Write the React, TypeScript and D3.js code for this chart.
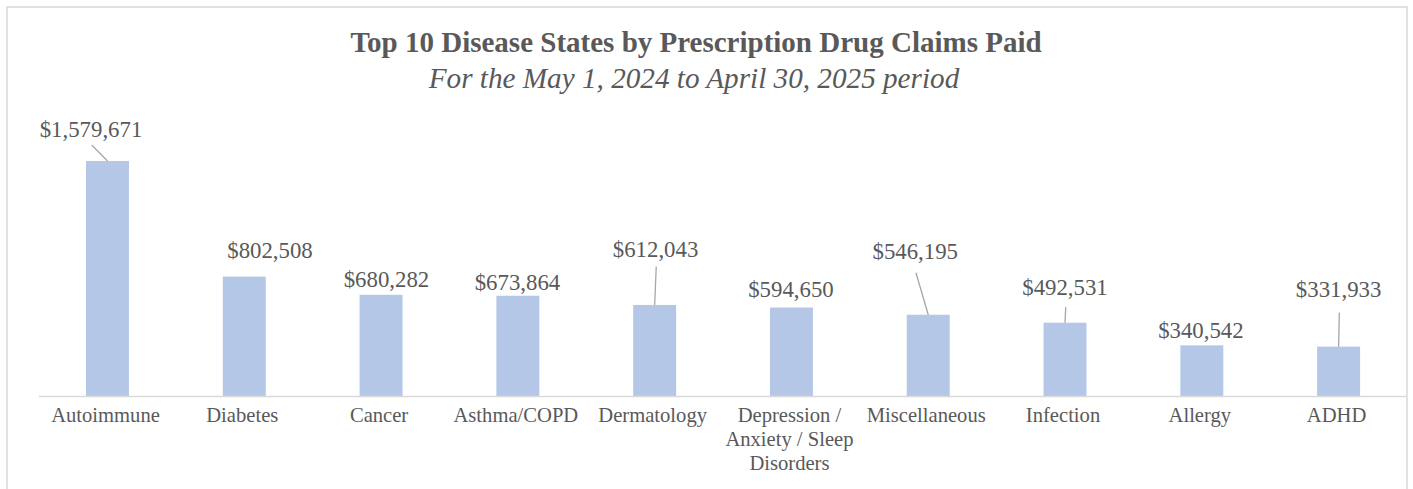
import React from "react";
import * as d3 from "d3";

const categories = [
  "Autoimmune",
  "Diabetes",
  "Cancer",
  "Asthma/COPD",
  "Dermatology",
  "Depression / Anxiety / Sleep Disorders",
  "Miscellaneous",
  "Infection",
  "Allergy",
  "ADHD",
];
const claimsPaid = [1579671, 802508, 680282, 673864, 612043, 594650, 546195, 492531, 340542, 331933];

// label layout (offsets relative to bar center / bar top), kept separate from data
const labelDx = [-16.5, 25.7, 5.4, -0.4, 0.9, -0.5, -13, 0, -0.9, 0];
const labelDy = [-24, -18.6, -7.8, -5.8, -48, -11, -56, -27.7, -7, -50];
const leaderStart = [8, null, null, null, 9.5, null, 14, 12, null, 16];
const categoryLines: Record<string, string[]> = {
  "Depression / Anxiety / Sleep Disorders": ["Depression /", "Anxiety / Sleep", "Disorders"],
};

const W = 1413;
const H = 489;
const TEXT = "#595959";
const FONT = "'Liberation Serif', 'Times New Roman', serif";

export default function App() {
  const x = d3
    .scaleBand<string>()
    .domain(categories)
    .range([39.1, 1407])
    .paddingInner(0.686)
    .paddingOuter(0.343);
  const y = d3.scaleLinear().domain([0, 1800000]).range([396, 128.2]);
  const fmt = (v: number) => "$" + d3.format(",")(v);

  return (
    <svg
      width={W}
      height={H}
      style={{ position: "absolute", left: 0, top: 0, background: "#fff" }}
      fontFamily={FONT}
    >
      <rect x={7} y={7} width={1400} height={500} fill="#fff" stroke="#d9d9d9" strokeWidth={1.5} />
      <text x={696} y={52} textAnchor="middle" fontSize={29} fontWeight="bold" fill={TEXT}>
        Top 10 Disease States by Prescription Drug Claims Paid
      </text>
      <text x={694} y={88} textAnchor="middle" fontSize={29.2} fontStyle="italic" fill={TEXT}>
        For the May 1, 2024 to April 30, 2025 period
      </text>

      {categories.map((c, i) => {
        const bx = x(c)!;
        const bw = x.bandwidth();
        const top = y(claimsPaid[i]);
        return (
          <rect key={"b" + c} x={bx} y={top} width={bw} height={y(0) - top} fill="#b4c7e7" />
        );
      })}

      <line x1={39} x2={1407} y1={396.5} y2={396.5} stroke="#d9d9d9" strokeWidth={1.5} />

      {categories.map((c, i) => {
        const cx = x(c)! + x.bandwidth() / 2;
        const top = y(claimsPaid[i]);
        const lx = cx + labelDx[i];
        const ly = top + labelDy[i];
        const ls = leaderStart[i];
        return (
          <g key={"l" + c}>
            {ls !== null && (
              <line x1={lx + 0.7} y1={ly + ls} x2={cx} y2={top} stroke="#a6a6a6" strokeWidth={1.3} />
            )}
            <text x={lx} y={ly} textAnchor="middle" fontSize={22.8} fill={TEXT}>
              {fmt(claimsPaid[i])}
            </text>
          </g>
        );
      })}

      {categories.map((c) => {
        const cx = x(c)! + x.bandwidth() / 2;
        const lines = categoryLines[c] || [c];
        return (
          <text key={"c" + c} x={cx - 2} y={422} textAnchor="middle" fontSize={20.6} fill={TEXT}>
            {lines.map((t, j) => (
              <tspan key={j} x={cx - 2} dy={j === 0 ? 0 : 24}>
                {t}
              </tspan>
            ))}
          </text>
        );
      })}
    </svg>
  );
}
